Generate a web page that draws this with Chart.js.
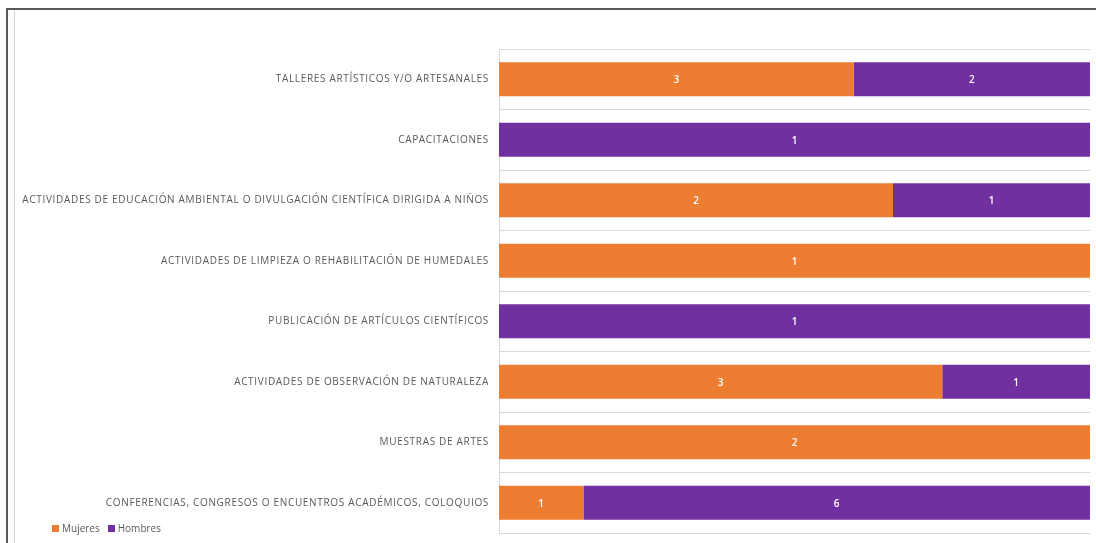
<!DOCTYPE html>
<html>
<head>
<meta charset="utf-8">
<script src="https://cdn.jsdelivr.net/npm/chart.js@4.4.1/dist/chart.umd.min.js"></script>
<style>
  html, body { margin: 0; padding: 0; background: #fff; }
  #wrap { position: relative; width: 1096px; height: 543px; overflow: hidden; }
  #frameTop { position: absolute; left: 6px; top: 8px; width: 1090px; height: 2px; background: #5a5a5a; }
  #frameLeft { position: absolute; left: 6px; top: 8px; width: 2px; height: 535px; background: #5a5a5a; }
  #frameInner { position: absolute; left: 14px; top: 10px; width: 1px; height: 533px; background: #d4d4d4; }
  #legend { position: absolute; left: 52px; top: 521px; font: 10px "Open Sans", sans-serif; color: #595959; white-space: nowrap; }
  #legend span.sw { display: inline-block; width: 7px; height: 7px; margin-right: 3px; vertical-align: -0px; }
  #legend span.item { margin-right: 8px; }
  canvas { position: absolute; left: 0; top: 0; }
</style>
</head>
<body>
<div id="wrap">
  <canvas id="chart" width="1096" height="543"></canvas>
  <div id="frameTop"></div>
  <div id="frameLeft"></div>
  <div id="frameInner"></div>
  <div id="legend"></div>
</div>
<script>
(function () {
  'use strict';

  const categories = [
    'TALLERES ARTÍSTICOS Y/O ARTESANALES',
    'CAPACITACIONES',
    'ACTIVIDADES DE EDUCACIÓN AMBIENTAL O DIVULGACIÓN CIENTÍFICA DIRIGIDA A NIÑOS',
    'ACTIVIDADES DE LIMPIEZA O REHABILITACIÓN DE HUMEDALES',
    'PUBLICACIÓN DE ARTÍCULOS CIENTÍFICOS',
    'ACTIVIDADES DE OBSERVACIÓN DE NATURALEZA',
    'MUESTRAS DE ARTES',
    'CONFERENCIAS, CONGRESOS O ENCUENTROS ACADÉMICOS, COLOQUIOS'
  ];
  const mujeres = [3, 0, 2, 1, 0, 3, 2, 1];
  const hombres = [2, 1, 1, 0, 1, 1, 0, 6];
  const seriesNames = ['Mujeres', 'Hombres'];
  const seriesColors = ['#ED7D31', '#7030A0'];

  // 100% stacked: share of each row
  const pct = (a, b) => a.map((v, i) => {
    const t = v + b[i];
    return t ? v / t * 100 : 0;
  });

  const legendEl = document.getElementById('legend');
  legendEl.innerHTML = seriesNames.map((n, i) =>
    '<span class="item"><span class="sw" style="background:' + seriesColors[i] + '"></span>' + n + '</span>'
  ).join('');

  // category labels with letter spacing
  const labelPlugin = {
    id: 'catLabels',
    afterDraw(ci) {
      const { ctx, chartArea, scales: { y } } = ci;
      ctx.save();
      ctx.font = '10px "Open Sans", sans-serif';
      ctx.letterSpacing = '0.68px';
      ctx.fillStyle = '#595959';
      ctx.textAlign = 'right';
      ctx.textBaseline = 'middle';
      categories.forEach((c, i) => {
        ctx.fillText(c, chartArea.left - 10, y.getPixelForValue(i));
      });
      ctx.restore();
    }
  };

  // raw counts inside segments
  const valuePlugin = {
    id: 'segValues',
    afterDatasetsDraw(ci) {
      const { ctx } = ci;
      ctx.save();
      ctx.font = '600 10px "Open Sans", sans-serif';
      ctx.fillStyle = '#ffffff';
      ctx.textAlign = 'center';
      ctx.textBaseline = 'middle';
      ci.data.datasets.forEach((ds, di) => {
        const meta = ci.getDatasetMeta(di);
        meta.data.forEach((el, i) => {
          const raw = ds.counts[i];
          if (!raw) return;
          const p = el.getCenterPoint();
          ctx.fillText(String(raw), p.x, p.y + 1);
        });
      });
      ctx.restore();
    }
  };

  new Chart(document.getElementById('chart').getContext('2d'), {
    type: 'bar',
    data: {
      labels: categories,
      datasets: [
        { label: seriesNames[0], data: pct(mujeres, hombres), counts: mujeres, backgroundColor: seriesColors[0], borderWidth: 0 },
        { label: seriesNames[1], data: pct(hombres, mujeres), counts: hombres, backgroundColor: seriesColors[1], borderWidth: 0 }
      ]
    },
    options: {
      indexAxis: 'y',
      responsive: false,
      animation: false,
      barPercentage: 0.56,
      categoryPercentage: 1,
      layout: { padding: { left: 499, right: 6, top: 49, bottom: 10 } },
      scales: {
        x: {
          stacked: true, min: 0, max: 100, display: false
        },
        y: {
          stacked: true,
          ticks: { display: false },
          grid: { offset: true, color: '#d9d9d9', drawTicks: false, lineWidth: 1 },
          border: { display: true, color: '#d9d9d9' }
        }
      },
      plugins: { legend: { display: false }, tooltip: { enabled: false } }
    },
    plugins: [labelPlugin, valuePlugin]
  });
})();
</script>
</body>
</html>
